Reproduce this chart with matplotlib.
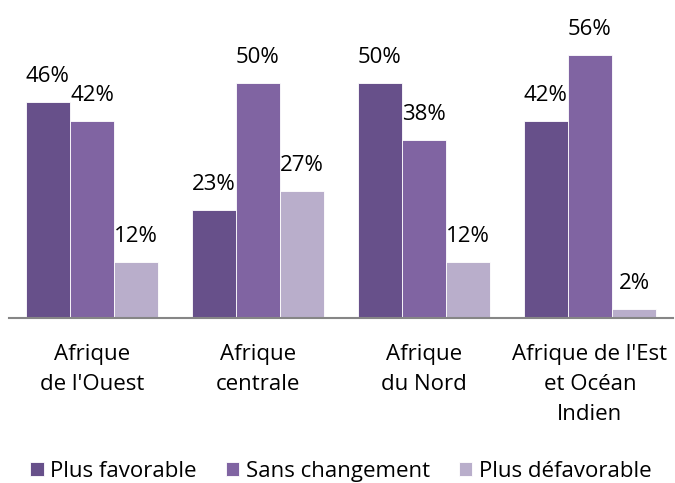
import numpy as np
import matplotlib.pyplot as plt

plt.rcParams['font.family'] = ['Open Sans', 'DejaVu Sans']

regions = ["Afrique\nde l'Ouest", "Afrique\ncentrale", "Afrique\ndu Nord",
           "Afrique de l'Est\net Océan\nIndien"]
series = ["Plus favorable", "Sans changement", "Plus défavorable"]
favorable = [46, 23, 50, 42]
unchanged = [42, 50, 38, 56]
unfavorable = [12, 27, 12, 2]
colors = ["#67508a", "#8064a2", "#b9aecb"]

fig = plt.figure(figsize=(6.75, 4.83), dpi=100)
ax = fig.add_axes([0.0133, 0.3416, 0.9837, 0.5834])

x = np.arange(len(regions))
width = 0.2667
for i, (name, vals) in enumerate(zip(series, [favorable, unchanged, unfavorable])):
    pos = x + (i - 1) * width
    bars = ax.bar(pos, vals, width, color=colors[i], label=name,
                  edgecolor="white", linewidth=0.6)
    for xp, v in zip(pos, vals):
        ax.text(xp, v + 3.2, f"{v}%", ha="center", va="bottom",
                fontsize=16, clip_on=False)

ax.set_xlim(-0.5, len(regions) - 0.5)
ax.set_ylim(0, 60)
ax.set_yticks([])
ax.set_xticks(x)
ax.set_xticklabels(regions, fontsize=16, linespacing=1.55)
ax.tick_params(axis="x", length=0, pad=19)
for s in ["top", "right", "left"]:
    ax.spines[s].set_visible(False)
ax.spines["bottom"].set_color("#868686")
ax.spines["bottom"].set_linewidth(1.5)

ax.legend(loc="center", bbox_to_anchor=(0.5, -0.545), ncol=3, frameon=False,
          fontsize=16, handlelength=0.6, handleheight=0.6,
          handletextpad=0.3, columnspacing=1.3)

fig.savefig("out.png", dpi=100)
